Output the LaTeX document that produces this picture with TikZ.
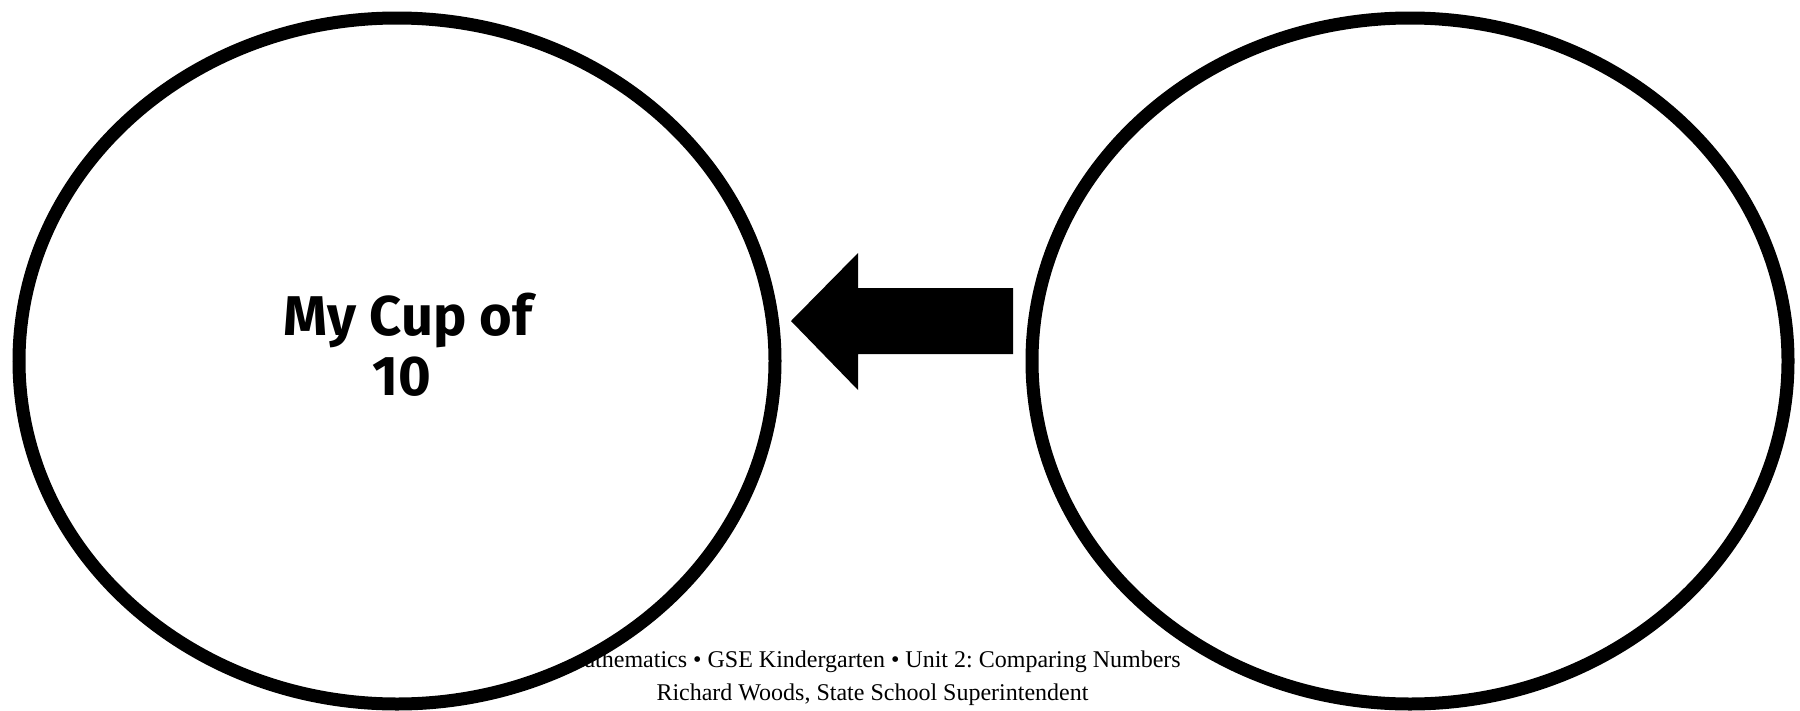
\documentclass[tikz,border=0pt]{standalone}
\usepackage{fontspec}
\setmainfont{Liberation Serif}
\newfontfamily\titlefont{Fira Sans}
\frenchspacing
\tikzset{
  ring/.style={draw=black, fill=white, line width=13pt},
  footer/.style={anchor=base, inner sep=0pt, font=\fontsize{24}{32}\selectfont},
  title/.style={align=center, inner sep=0pt, font=\titlefont\bfseries\fontsize{56}{60}\selectfont},
  bigarrow/.style={fill=black, draw=none}
}
\begin{document}
\begin{tikzpicture}[x=1pt,y=-1pt]
\useasboundingbox (0,0) rectangle (1800,710);
% footer (partly hidden by the left ellipse)
\node[footer] (foot1) at (872,667) {Mathematics \textbullet{} GSE Kindergarten \textbullet{} Unit 2: Comparing Numbers};
\node[footer] (foot2) at (872.5,700) {Richard Woods, State School Superintendent};
% ellipses
\path[ring] (397,361) ellipse [x radius=378pt, y radius=343pt];
\path[ring] (1410,361) ellipse [x radius=378pt, y radius=343pt];
\coordinate (leftc) at (397,361);
\coordinate (rightc) at (1410,361);
% arrow
\fill[bigarrow] (791,321) -- (858,253) -- (858,288) -- (1013,288) -- (1013,354) -- (858,354) -- (858,390) -- cycle;
% title
\node[title, anchor=base] (t1) at (408,335) {My Cup of};
\node[title, anchor=base] (t2) at (402,395) {10};
\end{tikzpicture}
\end{document}
